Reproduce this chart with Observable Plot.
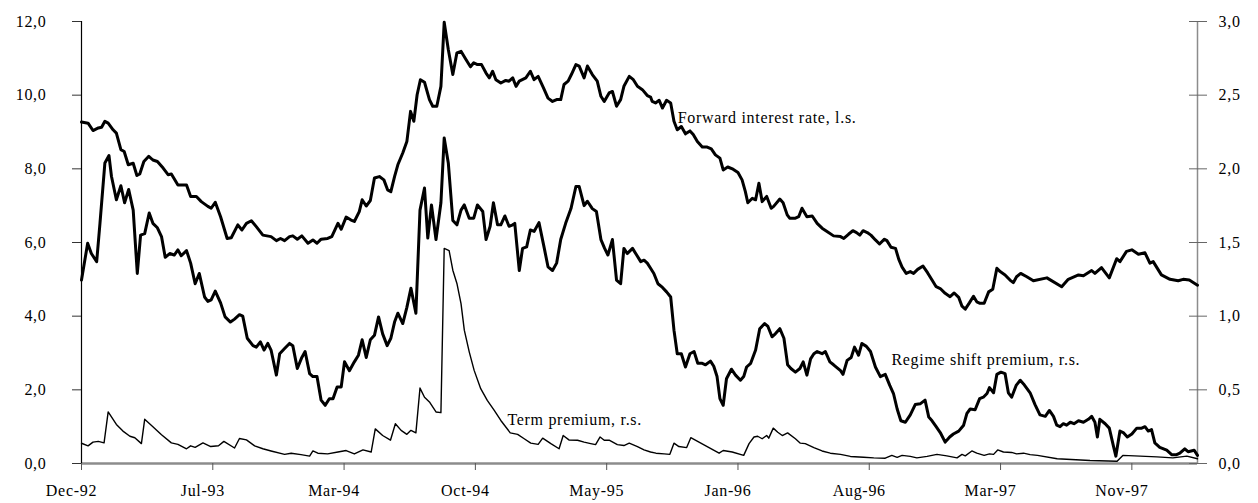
<!DOCTYPE html>
<html>
<head>
<meta charset="utf-8">
<script src="https://cdn.jsdelivr.net/npm/d3@7"></script>
<script src="https://cdn.jsdelivr.net/npm/@observablehq/plot@0.6"></script>
<style>
  html, body { margin: 0; padding: 0; background: #fff; }
  #chart svg { display: block; }
</style>
</head>
<body>
<div id="chart"></div>
<script>
// x = week number counted from the first observation (Dec-92)
const xTickWeeks = [0, 32, 64, 96, 128, 160, 192, 224, 256];
const xTickLabels = ["Dec-92", "Jul-93", "Mar-94", "Oct-94", "May-95", "Jan-96", "Aug-96", "Mar-97", "Nov-97"];
const leftTicks = [0, 2, 4, 6, 8, 10, 12];
const leftTickLabels = ["0,0", "2,0", "4,0", "6,0", "8,0", "10,0", "12,0"];
const rightTicks = [0, 0.5, 1, 1.5, 2, 2.5, 3];
const rightTickLabels = ["0,0", "0,5", "1,0", "1,5", "2,0", "2,5", "3,0"];

// Forward interest rate, left scale (%)
const forwardRate = [
[0,9.27],[1.6,9.24],[2.8,9.04],[4.1,9.11],[4.9,9.13],[5.7,9.29],[6.5,9.24],[7.7,9.06],[8.5,8.97],[9.6,8.52],[10.4,8.47],[11.4,8.11],[12.6,8.15],[13.5,7.82],[14.2,7.86],[15.2,8.20],[16.4,8.34],[17.4,8.24],[18.5,8.20],[19.9,8.02],[21.1,7.84],[21.9,7.86],[23.5,7.56],[25.6,7.56],[26.6,7.25],[28.0,7.25],[29.2,7.11],[30.8,6.98],[31.6,6.93],[32.6,7.09],[33.9,6.70],[35.5,6.11],[36.5,6.13],[38.1,6.48],[39.1,6.34],[40.2,6.52],[41.4,6.59],[42.6,6.43],[44.2,6.20],[46.2,6.16],
[47.5,6.05],[48.5,6.11],[49.5,6.05],[50.7,6.16],[51.5,6.18],[52.6,6.09],[53.7,6.18],[55.2,5.98],[56.4,6.07],[57.4,5.98],[58.4,6.09],[60.0,6.11],[61.0,6.16],[62.5,6.52],[63.3,6.36],[64.5,6.69],[65.7,6.61],[66.5,6.57],[67.7,6.84],[68.4,7.16],[69.4,6.99],[70.4,7.14],[71.4,7.75],[72.6,7.79],[73.7,7.70],[74.6,7.43],[75.4,7.38],[76.3,7.79],[77.1,8.11],[78.3,8.43],[79.3,8.74],[80.2,9.56],[81.0,9.29],[81.8,10.01],[82.6,10.42],[83.6,10.35],[84.8,9.88],[85.6,9.70],[86.6,9.70],[87.6,10.24],[88.4,11.98],[89.4,11.24],[90.5,10.56],[91.5,11.15],[92.5,11.19],
[93.7,10.97],[94.8,10.77],[95.6,10.88],[96.5,10.83],[97.5,10.83],[98.6,10.60],[99.4,10.47],[100.2,10.65],[101.0,10.42],[102.2,10.33],[103.4,10.40],[104.2,10.38],[105.1,10.47],[105.9,10.24],[106.7,10.38],[108.3,10.47],[109.4,10.65],[110.3,10.42],[111.3,10.51],[112.6,10.20],[113.7,9.92],[114.8,9.83],[115.8,9.88],[116.8,9.88],[117.6,10.29],[118.6,10.38],[119.4,10.56],[120.5,10.83],[121.3,10.79],[122.5,10.47],[123.3,10.79],[124.5,10.56],[125.7,10.38],[126.6,9.97],[127.4,9.83],[128.6,10.06],[129.4,10.10],[130.4,9.70],[131.4,9.88],[132.2,10.24],[133.5,10.51],[134.5,10.42],[135.5,10.24],[136.7,10.15],[137.9,9.99],[138.7,9.95],
[139.1,9.83],[139.9,9.79],[140.8,9.86],[141.6,9.65],[142.6,9.86],[143.6,9.79],[144.4,9.29],[145.2,9.06],[146.2,9.15],[147.2,8.95],[148.3,9.03],[149.1,8.93],[150.1,8.74],[151.3,8.59],[152.5,8.59],[153.5,8.54],[154.5,8.38],[155.6,8.29],[156.4,7.97],[157.5,8.05],[158.8,7.99],[160.0,7.90],[161.0,7.70],[161.8,7.38],[162.4,7.08],[163.5,7.20],[164.3,7.16],[165.1,7.61],[165.9,7.11],[167.0,7.25],[168.1,6.93],[168.7,6.98],[170.2,7.18],[171.0,7.08],[172.0,6.75],[172.6,6.66],[174.0,6.66],[174.8,6.70],[175.6,6.93],[176.8,6.70],[178.1,6.72],[179.3,6.52],[180.5,6.39],[181.7,6.30],[183.3,6.18],[185.0,6.16],
[185.8,6.11],[187.0,6.23],[188.0,6.32],[188.9,6.27],[189.7,6.20],[190.5,6.32],[191.5,6.27],[192.4,6.20],[193.5,6.07],[194.5,5.96],[195.7,6.09],[196.3,6.05],[197.3,5.87],[198.4,5.84],[199.2,5.54],[200.0,5.33],[201.0,5.16],[202.0,5.21],[202.8,5.16],[203.8,5.27],[205.1,5.36],[206.2,5.18],[207.3,4.98],[208.3,4.80],[209.3,4.75],[210.5,4.62],[211.7,4.53],[212.7,4.63],[213.8,4.51],[214.6,4.27],[215.4,4.19],[216.4,4.36],[217.4,4.54],[218.2,4.39],[219.0,4.35],[220.0,4.35],[221.1,4.66],[222.1,4.73],[223.1,5.30],[223.9,5.21],[225.1,5.12],[226.3,4.98],[227.1,4.91],[227.9,5.07],[228.9,5.16],
[230.4,5.07],[232.0,4.96],[235.3,5.04],[238.9,4.80],[240.5,5.00],[243.0,5.12],[244.2,5.10],[246.2,5.24],[247.0,5.16],[248.6,5.32],[250.5,5.04],[252.3,5.56],[253.1,5.48],[254.7,5.76],[256.0,5.80],[257.6,5.68],[259.2,5.72],[260.4,5.44],[261.2,5.48],[263.2,5.12],[265.3,5.00],[267.3,4.96],[268.5,5.00],[270.0,4.98],[272,4.84]
];

// Regime shift premium, right scale (%)
const regimePremium = [
[0,1.245],[1.5,1.495],[2.4,1.425],[3.7,1.37],[4.5,1.63],[5.7,2.04],[6.7,2.09],[7.3,1.95],[8.5,1.79],[9.6,1.885],[10.5,1.77],[11.5,1.86],[12.6,1.72],[13.6,1.29],[14.4,1.55],[15.4,1.56],[16.5,1.70],[17.4,1.63],[18.5,1.60],[19.5,1.54],[20.4,1.40],[21.5,1.425],[22.6,1.415],[23.5,1.45],[24.3,1.41],[25.6,1.445],[26.6,1.36],[27.7,1.22],[28.7,1.29],[30.0,1.13],[30.8,1.10],[31.6,1.11],[32.6,1.17],[33.9,1.09],[35.0,0.995],[36.3,0.96],[37.3,0.98],[38.5,1.01],[39.3,1.00],[40.4,0.85],[41.8,0.80],[42.6,0.79],[43.6,0.825],[44.5,0.77],[45.4,0.815],[46.2,0.77],
[47.5,0.60],[48.3,0.745],[49.5,0.78],[50.7,0.815],[51.5,0.80],[52.6,0.645],[53.7,0.72],[54.5,0.76],[55.6,0.61],[56.4,0.59],[57.4,0.59],[58.4,0.43],[59.4,0.395],[60.4,0.44],[61.3,0.44],[62.3,0.52],[63.3,0.52],[64.1,0.69],[65.3,0.63],[66.5,0.69],[67.5,0.735],[68.4,0.84],[69.4,0.72],[70.4,0.84],[71.4,0.87],[72.4,0.995],[73.4,0.88],[74.5,0.80],[75.4,0.85],[76.3,0.96],[77.1,1.02],[78.3,0.95],[79.3,1.06],[80.3,1.19],[81.5,1.02],[82.5,1.72],[83.6,1.87],[84.4,1.53],[85.3,1.755],[86.4,1.52],[87.6,1.77],[88.4,2.21],[89.4,2.04],[90.5,1.65],[91.5,1.62],[92.5,1.72],
[93.3,1.755],[94.5,1.665],[95.6,1.665],[96.5,1.755],[97.8,1.71],[98.6,1.52],[99.6,1.61],[100.4,1.77],[101.4,1.62],[102.2,1.62],[103.2,1.68],[104.2,1.61],[105.1,1.62],[105.6,1.63],[106.7,1.31],[107.5,1.46],[108.5,1.47],[109.4,1.585],[110.3,1.575],[111.5,1.635],[112.8,1.46],[113.7,1.335],[114.8,1.31],[115.8,1.36],[116.8,1.52],[118.0,1.63],[119.3,1.73],[120.5,1.88],[121.3,1.88],[122.5,1.75],[123.3,1.78],[124.5,1.73],[125.5,1.71],[126.6,1.52],[127.5,1.46],[128.3,1.415],[129.4,1.52],[130.4,1.245],[131.4,1.22],[132.2,1.46],[133.0,1.425],[134.3,1.46],[135.3,1.415],[136.3,1.37],[137.1,1.38],[137.9,1.36],[138.7,1.325],
[139.5,1.29],[140.5,1.22],[141.6,1.195],[142.6,1.165],[143.6,1.13],[144.4,0.905],[145.2,0.745],[146.2,0.745],[147.2,0.655],[148.3,0.745],[149.3,0.76],[150.2,0.68],[151.3,0.68],[152.1,0.67],[153.3,0.695],[154.1,0.66],[154.9,0.59],[155.6,0.44],[156.4,0.395],[157.2,0.575],[158.4,0.64],[159.4,0.60],[160.6,0.565],[161.4,0.59],[162.1,0.655],[163.1,0.68],[164.3,0.77],[165.3,0.915],[166.5,0.95],[167.3,0.93],[168.3,0.86],[169.1,0.88],[170.2,0.915],[171.2,0.85],[172.1,0.67],[172.9,0.645],[174.0,0.62],[175.1,0.645],[175.9,0.69],[176.8,0.60],[177.7,0.71],[178.5,0.745],[179.3,0.76],[180.5,0.745],[181.3,0.76],[182.4,0.69],[183.3,0.67],[185.0,0.63],
[185.6,0.605],[186.6,0.70],[187.6,0.72],[188.4,0.79],[189.4,0.735],[190.2,0.815],[191.3,0.795],[192.3,0.76],[193.5,0.655],[194.7,0.59],[195.9,0.605],[197.0,0.53],[197.9,0.475],[198.8,0.37],[199.7,0.29],[200.8,0.28],[202.0,0.33],[203.2,0.40],[204.4,0.405],[205.6,0.43],[206.5,0.315],[207.3,0.29],[208.3,0.25],[209.3,0.21],[210.5,0.145],[211.6,0.18],[212.5,0.20],[213.8,0.22],[215.0,0.26],[215.8,0.34],[216.6,0.37],[217.8,0.365],[218.9,0.44],[219.8,0.45],[220.7,0.475],[221.3,0.515],[222.3,0.48],[223.1,0.605],[224.1,0.62],[225.1,0.61],[225.9,0.48],[226.7,0.45],[227.8,0.53],[228.8,0.565],[229.6,0.54],
[231.2,0.48],[232.4,0.40],[233.6,0.33],[234.9,0.32],[235.9,0.36],[236.9,0.32],[237.7,0.26],[238.5,0.25],[239.3,0.27],[240.1,0.26],[241.0,0.28],[241.9,0.27],[243.0,0.29],[244.2,0.28],[245.4,0.30],[246.2,0.32],[247.0,0.28],[247.6,0.18],[248.2,0.30],[249.5,0.27],[250.5,0.24],[251.5,0.12],[252.1,0.05],[253.1,0.22],[253.9,0.21],[254.9,0.18],[256.0,0.20],[257.2,0.24],[258.4,0.24],[259.2,0.25],[260.0,0.22],[260.8,0.23],[261.6,0.14],[262.8,0.11],[264.5,0.09],[265.7,0.06],[266.9,0.06],[267.7,0.07],[268.9,0.10],[269.7,0.08],[271.2,0.09],[272,0.055]
];

// Term premium, right scale (%)
const termPremium = [
[0,0.1375],[1.6,0.12],[2.8,0.145],[4.1,0.15],[5.5,0.14],[6.5,0.35],[8.5,0.265],[10.1,0.22],[11.8,0.185],[13.0,0.175],[14.6,0.135],[15.4,0.30],[17.0,0.26],[19.5,0.195],[21.9,0.14],[23.5,0.13],[25.6,0.10],[26.6,0.12],[27.7,0.11],[29.6,0.14],[31.5,0.115],[33.4,0.12],[34.7,0.15],[37.3,0.105],[38.5,0.17],[40.2,0.16],[42.2,0.12],[44.2,0.10],[46.2,0.085],
[49.5,0.062],[51.1,0.07],[53.5,0.06],[55.6,0.05],[56.4,0.085],[57.6,0.07],[60.0,0.065],[62.5,0.078],[64.5,0.088],[66.5,0.065],[68.6,0.092],[70.6,0.078],[71.6,0.235],[73.4,0.19],[75.3,0.158],[76.5,0.27],[77.9,0.225],[79.3,0.198],[80.3,0.225],[81.5,0.208],[82.5,0.512],[83.6,0.45],[84.8,0.418],[86.4,0.35],[87.6,0.345],[88.4,1.46],[89.6,1.445],[90.5,1.312],[91.5,1.222],[92.5,1.085],
[93.3,0.905],[94.5,0.758],[95.7,0.632],[97.3,0.508],[98.9,0.428],[100.6,0.36],[102.2,0.292],[104.5,0.208],[106.3,0.198],[107.9,0.168],[109.5,0.138],[111.3,0.13],[112.4,0.172],[114.4,0.135],[116.4,0.10],[117.4,0.19],[118.8,0.16],[120.9,0.158],[122.5,0.145],[124.1,0.135],[125.3,0.128],[126.4,0.18],[127.4,0.158],[128.6,0.158],[130.6,0.128],[132.2,0.122],[133.5,0.138],[135.5,0.115],[137.1,0.092],[138.7,0.078],
[140.0,0.07],[142.0,0.065],[143.4,0.062],[144.4,0.138],[145.6,0.115],[147.5,0.108],[148.5,0.175],[150.5,0.145],[152.5,0.115],[155.4,0.07],[156.4,0.088],[158.6,0.078],[161.4,0.055],[162.7,0.135],[163.9,0.18],[164.8,0.185],[165.9,0.168],[167.0,0.19],[167.5,0.172],[168.6,0.24],[169.7,0.212],[170.8,0.19],[172.1,0.208],[174.0,0.168],[175.2,0.138],[176.4,0.135],[178.5,0.108],[180.5,0.085],[182.5,0.07],[185.0,0.062],
[187.4,0.048],[190.6,0.042],[193.1,0.038],[195.9,0.036],[197.5,0.055],[198.8,0.042],[200.0,0.055],[202.0,0.048],[203.6,0.038],[206.1,0.048],[208.5,0.062],[210.9,0.052],[213.4,0.038],[214.6,0.062],[215.4,0.052],[217.0,0.085],[218.2,0.07],[220.0,0.055],[221.3,0.065],[222.3,0.062],[223.3,0.092],[224.7,0.078],[226.7,0.075],[227.9,0.065],[229.6,0.07],[231.2,0.06],
[233.0,0.055],[237.8,0.032],[245.8,0.02],[252.4,0.015],[253.8,0.055],[258.0,0.05],[262.1,0.045],[266.0,0.038],[269.4,0.05],[272,0.032]
];

// In-chart series labels (anchored in left-scale data units)
const seriesLabels = ["Forward interest rate, l.s.", "Regime shift premium, r.s.", "Term premium, r.s."];
const labelWeeks = [145.3, 197.4, 103.8];
const labelLevels = [9.39, 2.80, 1.19];

const RIGHT_TO_LEFT = 4; // right scale 0–3 maps onto left scale 0–12
const lastWeek = 272;

const chart = Plot.plot({
  width: 1258,
  height: 503,
  marginLeft: 81,
  marginRight: 61,
  marginTop: 21,
  marginBottom: 40,
  x: {type: "linear", domain: [0, lastWeek], axis: null},
  y: {domain: [0, 12], axis: null},
  style: {
    fontFamily: "'Liberation Serif', 'DejaVu Serif', serif",
    fontSize: "16px",
    color: "black",
    background: "white",
    letterSpacing: "0.7px",
    overflow: "visible"
  },
  marks: [
    // bottom category axis line (grey)
    Plot.ruleY([0], {stroke: "#8c8c8c", strokeWidth: 2.5}),
    // left & right value-axis lines
    Plot.ruleX([0], {stroke: "#000", strokeWidth: 1.2}),
    Plot.ruleX([lastWeek], {stroke: "#8c8c8c", strokeWidth: 1.5}),
    // left axis
    Plot.axisY(leftTicks, {
      anchor: "left", tickSize: 9, tickPadding: 26, stroke: "#333",
      tickFormat: d => leftTickLabels[leftTicks.indexOf(d)], label: null
    }),
    // right axis: crossing tick marks
    Plot.axisY(rightTicks.map(t => t * RIGHT_TO_LEFT), {
      anchor: "right", tickSize: 18, dx: -9, stroke: "#666",
      tickFormat: () => "", label: null
    }),
    // right axis labels
    Plot.axisY(rightTicks.map(t => t * RIGHT_TO_LEFT), {
      anchor: "right", tickSize: 0, tickPadding: 21,
      tickFormat: d => rightTickLabels[rightTicks.indexOf(d / RIGHT_TO_LEFT)], label: null
    }),
    // x axis ticks
    Plot.axisX(xTickWeeks, {
      anchor: "bottom", tickSize: 7, stroke: "#555", tickFormat: () => "", label: null
    }),
    // x axis labels
    Plot.axisX(xTickWeeks, {
      anchor: "bottom", tickSize: 0, tickPadding: 21, dx: -10,
      tickFormat: d => xTickLabels[xTickWeeks.indexOf(d)], label: null
    }),
    // series
    Plot.line(termPremium, {
      x: d => d[0], y: d => d[1] * RIGHT_TO_LEFT,
      stroke: "#000", strokeWidth: 1.4, strokeLinejoin: "round"
    }),
    Plot.line(regimePremium, {
      x: d => d[0], y: d => d[1] * RIGHT_TO_LEFT,
      stroke: "#000", strokeWidth: 3, strokeLinejoin: "round"
    }),
    Plot.line(forwardRate, {
      x: d => d[0], y: d => d[1],
      stroke: "#000", strokeWidth: 3, strokeLinejoin: "round"
    }),
    Plot.text(seriesLabels, {
      x: (d, i) => labelWeeks[i], y: (d, i) => labelLevels[i], text: d => d,
      textAnchor: "start", fontSize: 16, fill: "#000"
    })
  ]
});

document.getElementById("chart").appendChild(chart);
</script>
</body>
</html>
